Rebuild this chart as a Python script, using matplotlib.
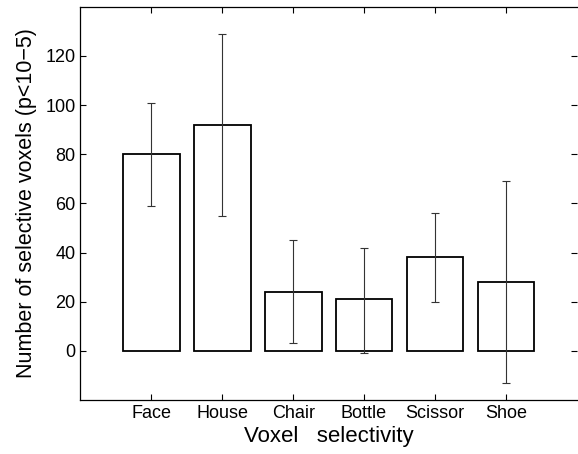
import numpy as np
import matplotlib.pyplot as plt

plt.rcParams['font.family'] = ['Liberation Sans', 'DejaVu Sans']

# data
categories = ['Face', 'House', 'Chair', 'Bottle', 'Scissor', 'Shoe']
counts = [80, 92, 24, 21, 38, 28]
err_low = [59, 55, 3, -1, 20, -13]
err_high = [101, 129, 45, 42, 56, 69]

x = np.arange(1, len(categories) + 1)
counts = np.array(counts)
yerr = [counts - np.array(err_low), np.array(err_high) - counts]

fig = plt.figure(figsize=(5.78, 4.54), dpi=100)
ax = fig.add_axes([0.139, 0.119, 0.859, 0.866])

ax.bar(x, counts, width=0.8, facecolor='white', edgecolor='black', linewidth=1.3)
ax.errorbar(x, counts, yerr=yerr, fmt='none', ecolor='#333333', elinewidth=0.8,
            capsize=3, capthick=0.8)

ax.set_xlim(0, 7)
ax.set_ylim(-20, 140)
ax.set_xticks(x)
ax.set_xticklabels(categories)
ax.set_yticks([0, 20, 40, 60, 80, 100, 120])
ax.tick_params(direction='in', top=True, right=True, labelsize=13, length=4, width=0.8)
ax.spines['right'].set_visible(False)
for s in ['left', 'bottom', 'top']:
    ax.spines[s].set_linewidth(0.9)

ax.set_xlabel('Voxel   selectivity', fontsize=16, labelpad=3)
ax.set_ylabel('Number of selective voxels (p<10\u22125)', fontsize=15.5, labelpad=6)

fig.savefig('out.png', dpi=100)
